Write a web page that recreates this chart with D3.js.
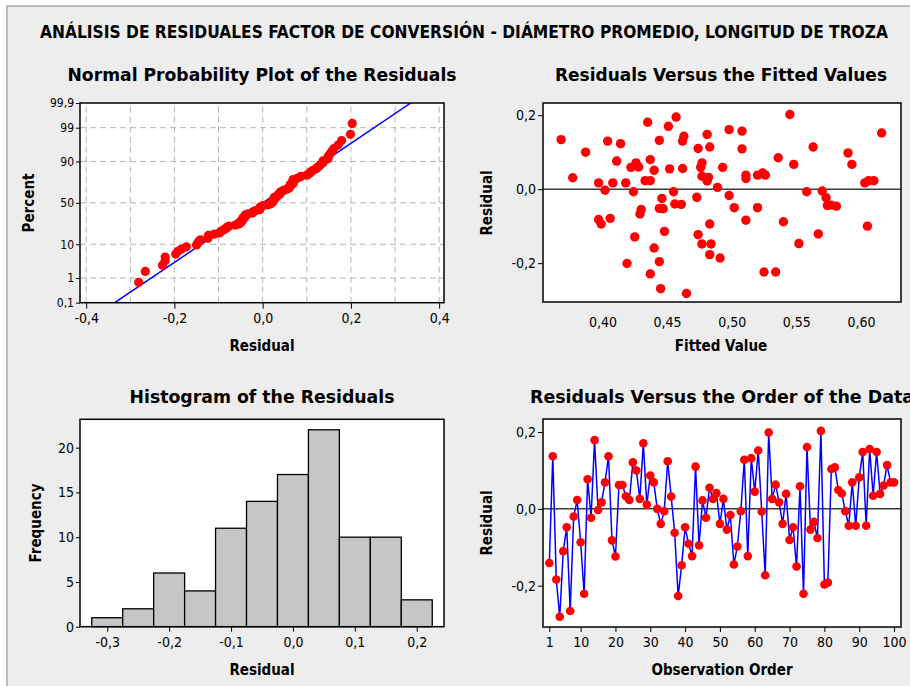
<!DOCTYPE html>
<meta charset="utf-8">
<style>
body { margin: 0; background: #fff; }
svg text { font-family: "DejaVu Sans Condensed", "DejaVu Sans", sans-serif; font-stretch: condensed; fill: #000; }
.tick line { stroke: #000; }
.tick text { font-size: 13px; }
</style>
<script src="https://d3js.org/d3.v7.min.js"></script>

<div id="chart"></div>

<script>
// residuals in observation order (1..100)
var residuals = [
  -0.141, 0.137, -0.184, -0.281, -0.110, -0.048, -0.266, -0.020, 0.023, -0.087,
  -0.221, 0.077, -0.023, 0.179, -0.003, 0.017, 0.069, 0.137, -0.082, -0.124,
  0.062, 0.062, 0.033, 0.023, 0.121, 0.100, 0.026, 0.171, 0.011, 0.087,
  0.069, 0.000, -0.039, -0.006, 0.124, 0.032, -0.062, -0.227, -0.147, -0.048,
  -0.091, -0.123, 0.110, -0.095, 0.022, -0.023, 0.055, 0.026, 0.041, -0.039,
  0.026, -0.054, -0.016, -0.145, -0.098, -0.006, 0.128, -0.123, 0.132, 0.045,
  0.152, -0.007, -0.173, 0.199, 0.026, 0.063, 0.017, -0.039, 0.039, -0.081,
  -0.048, -0.150, 0.059, -0.221, 0.161, -0.054, -0.034, -0.076, 0.203, -0.197,
  -0.192, 0.104, 0.108, 0.049, 0.040, -0.006, -0.044, 0.069, -0.044, 0.082,
  0.148, -0.044, 0.156, 0.034, 0.148, 0.039, 0.061, 0.114, 0.069, 0.069
];

// residuals versus fitted values
var fittedValues = [
  0.368, 0.377, 0.387, 0.397, 0.397, 0.399, 0.402, 0.404, 0.406, 0.408,
  0.411, 0.414, 0.418, 0.419, 0.422, 0.424, 0.425, 0.426, 0.428, 0.429,
  0.430, 0.433, 0.435, 0.437, 0.437, 0.437, 0.440, 0.440, 0.444, 0.444,
  0.444, 0.445, 0.446, 0.447, 0.448, 0.451, 0.452, 0.455, 0.456, 0.457,
  0.461, 0.462, 0.463, 0.462, 0.465, 0.473, 0.474, 0.474, 0.476, 0.477,
  0.477, 0.477, 0.481, 0.481, 0.482, 0.483, 0.483, 0.484, 0.483, 0.489,
  0.491, 0.493, 0.498, 0.498, 0.502, 0.508, 0.508, 0.511, 0.511, 0.511,
  0.520, 0.520, 0.524, 0.526, 0.525, 0.534, 0.536, 0.540, 0.545, 0.548,
  0.552, 0.558, 0.563, 0.567, 0.570, 0.573, 0.574, 0.577, 0.581, 0.590,
  0.593, 0.603, 0.606, 0.610, 0.605, 0.616
];
var fittedResiduals = [
  0.134, 0.031, 0.100, 0.017, -0.082, -0.094, -0.003, 0.130, -0.079, 0.017,
  0.076, 0.123, 0.017, -0.201, 0.059, -0.007, -0.129, 0.071, 0.060, -0.067,
  -0.055, 0.023, 0.181, 0.023, 0.080, -0.229, 0.051, -0.159, 0.132, -0.196,
  -0.052, -0.269, -0.025, -0.053, -0.114, 0.170, 0.055, -0.007, -0.040, 0.195,
  -0.041, 0.130, 0.143, 0.056, -0.282, -0.022, 0.110, -0.123, 0.059, 0.071,
  -0.148, 0.035, 0.148, 0.022, 0.032, 0.114, -0.094, -0.148, -0.177, 0.005,
  -0.186, 0.059, 0.161, -0.017, -0.050, 0.157, 0.109, 0.038, 0.029, -0.084,
  0.038, -0.050, 0.044, 0.038, -0.224, -0.224, 0.085, -0.088, 0.202, 0.067,
  -0.147, -0.007, 0.114, -0.121, -0.005, -0.023, -0.044, -0.043, -0.046, 0.098,
  0.067, 0.017, 0.023, 0.023, -0.100, 0.152
];

// histogram
var binCenters = [-0.30, -0.25, -0.20, -0.15, -0.10, -0.05, 0.00, 0.05, 0.10, 0.15, 0.20];
var binCounts  = [1, 2, 6, 4, 11, 14, 17, 22, 10, 10, 3];
var binWidth = 0.05;

// axis ticks
var percentTicks  = [0.1, 1, 10, 50, 90, 99, 99.9];
var percentLabels = ["0,1", "1", "10", "50", "90", "99", "99,9"];
var percentGrid   = [1, 10, 50, 90, 99];
var probGridX     = [-0.4, -0.3, -0.2, -0.1, 0, 0.1, 0.2, 0.3, 0.4];
var probTicksX    = [-0.4, -0.2, 0, 0.2, 0.4];
var fitTicksX     = [0.40, 0.45, 0.50, 0.55, 0.60];
var residTicksY   = [-0.2, 0, 0.2];
var histTicksX    = [-0.3, -0.2, -0.1, 0, 0.1, 0.2];
var histTicksY    = [0, 5, 10, 15, 20];
var orderTicksX   = [1, 10, 20, 30, 40, 50, 60, 70, 80, 90, 100];

var mainTitle = "ANÁLISIS DE RESIDUALES FACTOR DE CONVERSIÓN - DIÁMETRO PROMEDIO, LONGITUD DE TROZA";

var W = 910, H = 686;
var loc = d3.formatLocale({decimal: ",", thousands: ".", grouping: [3], currency: ["", ""], minus: "-"});
var f1 = loc.format(".1f"), f2 = loc.format(".2f");

// inverse normal cdf (Acklam)
function invNorm(p) {
  var a = [-39.69683028665376, 220.9460984245205, -275.9285104469687, 138.3577518672690, -30.66479806614716, 2.506628277459239];
  var b = [-54.47609879822406, 161.5858368580409, -155.6989798598866, 66.80131188771972, -13.28068155288572];
  var c = [-0.007784894002430293, -0.3223964580411365, -2.400758277161838, -2.549732539343734, 4.374664141464968, 2.938163982698783];
  var d = [0.007784695709041462, 0.3224671290700398, 2.445134137142996, 3.754408661907416];
  var q, r;
  if (p < 0.02425) {
    q = Math.sqrt(-2 * Math.log(p));
    return (((((c[0]*q+c[1])*q+c[2])*q+c[3])*q+c[4])*q+c[5]) / ((((d[0]*q+d[1])*q+d[2])*q+d[3])*q+1);
  } else if (p > 1 - 0.02425) {
    q = Math.sqrt(-2 * Math.log(1 - p));
    return -(((((c[0]*q+c[1])*q+c[2])*q+c[3])*q+c[4])*q+c[5]) / ((((d[0]*q+d[1])*q+d[2])*q+d[3])*q+1);
  }
  q = p - 0.5; r = q * q;
  return (((((a[0]*r+a[1])*r+a[2])*r+a[3])*r+a[4])*r+a[5])*q / (((((b[0]*r+b[1])*r+b[2])*r+b[3])*r+b[4])*r+1);
}

var svg = d3.select("#chart").append("svg")
  .attr("width", W).attr("height", H);

// page background and border
svg.append("rect").attr("x", 7).attr("y", 6).attr("width", W).attr("height", H)
  .attr("fill", "#ededed").attr("stroke", "#9a9a9a").attr("stroke-width", 1.2);

svg.append("text")
  .attr("x", 464).attr("y", 38)
  .attr("text-anchor", "middle")
  .attr("textLength", 848).attr("lengthAdjust", "spacingAndGlyphs")
  .style("font-size", "17px").style("font-weight", "bold")
  .text(mainTitle);

function panelTitle(txt, cx, y, len) {
  svg.append("text")
    .attr("x", cx).attr("y", y).attr("text-anchor", "middle")
    .attr("textLength", len).attr("lengthAdjust", "spacingAndGlyphs")
    .style("font-size", "17px").style("font-weight", "bold")
    .text(txt);
}
function xLabel(txt, cx, y) {
  svg.append("text").attr("x", cx).attr("y", y).attr("text-anchor", "middle")
    .style("font-size", "15px").style("font-weight", "bold").text(txt);
}
function yLabel(txt, x, cy) {
  svg.append("text").attr("transform", "translate(" + x + "," + cy + ") rotate(-90)")
    .attr("text-anchor", "middle")
    .style("font-size", "15px").style("font-weight", "bold").text(txt);
}
function frame(g, x, y) {
  g.append("rect")
    .attr("x", x.range()[0]).attr("y", y.range()[1])
    .attr("width", x.range()[1] - x.range()[0]).attr("height", y.range()[0] - y.range()[1])
    .attr("fill", "#fff");
}
function border(g, x, y) {
  g.append("rect")
    .attr("x", x.range()[0]).attr("y", y.range()[1])
    .attr("width", x.range()[1] - x.range()[0]).attr("height", y.range()[0] - y.range()[1])
    .attr("fill", "none").attr("stroke", "#000").attr("stroke-width", 1.5);
}
function axes(g, x, y, xAxis, yAxis) {
  g.append("g").attr("transform", "translate(0," + y.range()[0] + ")").call(xAxis)
    .call(function(s) { s.select(".domain").remove(); })
    .selectAll("text").style("font-size", "14px");
  g.append("g").attr("transform", "translate(" + x.range()[0] + ",0)").call(yAxis)
    .call(function(s) { s.select(".domain").remove(); })
    .selectAll("text").style("font-size", "14px");
}
function clip(id, x, y) {
  svg.append("clipPath").attr("id", id).append("rect")
    .attr("x", x.range()[0]).attr("y", y.range()[1])
    .attr("width", x.range()[1] - x.range()[0]).attr("height", y.range()[0] - y.range()[1]);
}

/* ---------- Normal probability plot ---------- */
var g1 = svg.append("g");
var x1 = d3.scaleLinear().domain([-0.414, 0.411]).range([80, 444]);
var y1 = d3.scaleLinear().domain([invNorm(0.001), invNorm(0.999)]).range([302.7, 103]);
frame(g1, x1, y1);
clip("c1", x1, y1);

g1.selectAll(".gx").data(probGridX).enter().append("line")
  .attr("x1", function(d) { return x1(d); }).attr("x2", function(d) { return x1(d); })
  .attr("y1", y1.range()[0]).attr("y2", y1.range()[1])
  .attr("stroke", "#b4b4b4").attr("stroke-dasharray", "6,4");
g1.selectAll(".gy").data(percentGrid).enter().append("line")
  .attr("x1", x1.range()[0]).attr("x2", x1.range()[1])
  .attr("y1", function(d) { return y1(invNorm(d / 100)); })
  .attr("y2", function(d) { return y1(invNorm(d / 100)); })
  .attr("stroke", "#b4b4b4").attr("stroke-dasharray", "6,4");

var mu = d3.mean(residuals), sd = d3.deviation(residuals);
var zr = y1.domain();
g1.append("line").attr("clip-path", "url(#c1)")
  .attr("x1", x1(mu + sd * zr[0])).attr("y1", y1(zr[0]))
  .attr("x2", x1(mu + sd * zr[1])).attr("y2", y1(zr[1]))
  .attr("stroke", "#0000ff").attr("stroke-width", 1.5);

var sorted = residuals.slice().sort(d3.ascending);
var n = sorted.length;
g1.selectAll(".pt").data(sorted).enter().append("circle")
  .attr("cx", function(d) { return x1(d); })
  .attr("cy", function(d, i) { return y1(invNorm((i + 1 - 0.3) / (n + 0.4))); })
  .attr("r", 4.6).attr("fill", "#ff0000");

axes(g1, x1, y1,
  d3.axisBottom(x1).tickValues(probTicksX).tickFormat(f1).tickSize(6).tickPadding(4),
  d3.axisLeft(y1).tickValues(percentTicks.map(function(p) { return invNorm(p / 100); }))
    .tickFormat(function(d, i) { return percentLabels[i]; }).tickSize(4).tickPadding(2));
g1.selectAll("g.tick text").filter(function() { return this.parentNode.parentNode.getAttribute("transform").indexOf("translate(80") === 0; })
  .style("font-size", "12px");
border(g1, x1, y1);
panelTitle("Normal Probability Plot of the Residuals", 262, 81, 389);
xLabel("Residual", 262, 351);
yLabel("Percent", 34, 203);

/* ---------- Residuals versus fitted values ---------- */
var g2 = svg.append("g");
var x2 = d3.scaleLinear().domain([0.354, 0.631]).range([543, 901]);
var y2 = d3.scaleLinear().domain([-0.305, 0.233]).range([302, 103]);
frame(g2, x2, y2);
g2.append("line")
  .attr("x1", x2.range()[0]).attr("x2", x2.range()[1])
  .attr("y1", y2(0)).attr("y2", y2(0))
  .attr("stroke", "#3c3c3c").attr("stroke-width", 1.5);
g2.selectAll(".pt").data(fittedValues).enter().append("circle")
  .attr("cx", function(d) { return x2(d); })
  .attr("cy", function(d, i) { return y2(fittedResiduals[i]); })
  .attr("r", 4.7).attr("fill", "#ff0000");
axes(g2, x2, y2,
  d3.axisBottom(x2).tickValues(fitTicksX).tickFormat(f2).tickSize(0).tickPadding(15),
  d3.axisLeft(y2).tickValues(residTicksY).tickFormat(f1).tickSize(5).tickPadding(2));
border(g2, x2, y2);
panelTitle("Residuals Versus the Fitted Values", 721, 81, 332);
xLabel("Fitted Value", 721, 351);
yLabel("Residual", 492, 203);

/* ---------- Histogram ---------- */
var g3 = svg.append("g");
var x3 = d3.scaleLinear().domain([-0.344, 0.244]).range([80, 444]);
var y3 = d3.scaleLinear().domain([0, 23.17]).range([626.7, 419.3]);
frame(g3, x3, y3);
g3.selectAll(".bar").data(binCounts).enter().append("rect")
  .attr("x", function(d, i) { return x3(binCenters[i] - binWidth / 2); })
  .attr("width", function(d, i) { return x3(binCenters[i] + binWidth / 2) - x3(binCenters[i] - binWidth / 2); })
  .attr("y", function(d) { return y3(d); })
  .attr("height", function(d) { return y3(0) - y3(d); })
  .attr("fill", "#c6c6c6").attr("stroke", "#000").attr("stroke-width", 1.3);
axes(g3, x3, y3,
  d3.axisBottom(x3).tickValues(histTicksX).tickFormat(f1).tickSize(5).tickPadding(5),
  d3.axisLeft(y3).tickValues(histTicksY).tickFormat(d3.format("d")).tickSize(4).tickPadding(2));
border(g3, x3, y3);
panelTitle("Histogram of the Residuals", 262, 403, 265);
xLabel("Residual", 262, 675);
yLabel("Frequency", 41, 523);

/* ---------- Residuals versus order ---------- */
var g4 = svg.append("g");
var x4 = d3.scaleLinear().domain([-0.81, 102]).range([543, 901]);
var y4 = d3.scaleLinear().domain([-0.3076, 0.234]).range([627, 419]);
frame(g4, x4, y4);
g4.append("line")
  .attr("x1", x4.range()[0]).attr("x2", x4.range()[1])
  .attr("y1", y4(0)).attr("y2", y4(0))
  .attr("stroke", "#3c3c3c").attr("stroke-width", 1.5);
g4.append("path").datum(residuals)
  .attr("d", d3.line().x(function(d, i) { return x4(i + 1); }).y(function(d) { return y4(d); }))
  .attr("fill", "none").attr("stroke", "#0000ff").attr("stroke-width", 1.5);
g4.selectAll(".pt").data(residuals).enter().append("circle")
  .attr("cx", function(d, i) { return x4(i + 1); })
  .attr("cy", function(d) { return y4(d); })
  .attr("r", 4.3).attr("fill", "#ff0000");
axes(g4, x4, y4,
  d3.axisBottom(x4).tickValues(orderTicksX).tickFormat(d3.format("d")).tickSize(5).tickPadding(5),
  d3.axisLeft(y4).tickValues(residTicksY).tickFormat(f1).tickSize(5).tickPadding(2));
border(g4, x4, y4);
panelTitle("Residuals Versus the Order of the Data", 722, 403, 384);
xLabel("Observation Order", 722, 675);
yLabel("Residual", 492, 523);
</script>
